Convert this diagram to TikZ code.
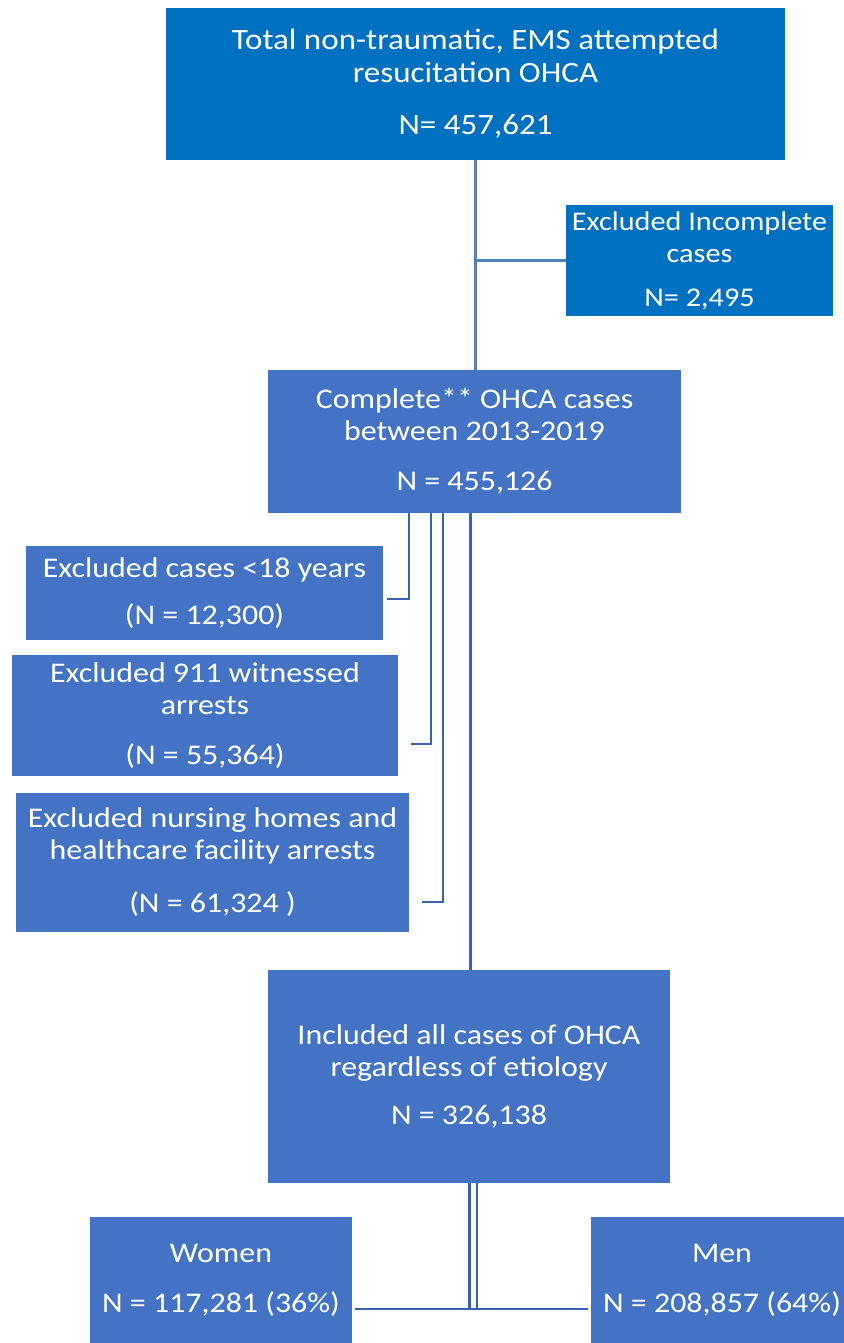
\documentclass[tikz,border=0pt]{standalone}
\usepackage{fontspec}
\setmainfont{Carlito}[FakeStretch=1.12]
\definecolor{bright}{HTML}{0070C0}
\definecolor{mid}{HTML}{4472C4}
\definecolor{lnA}{HTML}{4F81B8}
\definecolor{lnB}{HTML}{3B62AE}
\tikzset{
  box/.style={fill=#1, text=white, inner sep=0pt, align=center,
    font=\fontsize{28.5}{32}\selectfont},
  conn/.style={draw=#1, line width=2.6pt},
}
\begin{document}
\begin{tikzpicture}[x=1pt,y=-1pt]
\useasboundingbox (0,0) rectangle (843,1343);
% boxes
\node[box=bright, minimum width=619pt, minimum height=152pt,
  font=\fontsize{29.5}{33}\selectfont] (top) at (475.5,84)
  {Total non-traumatic, EMS attempted\\resucitation OHCA\\[19pt]N= 457,621};
\node[box=bright, minimum width=267pt, minimum height=111pt,
  font=\fontsize{27}{32}\selectfont] (exinc) at (699.5,260.5)
  {Excluded Incomplete\\cases\\[12pt]N= 2,495};
\node[box=mid, minimum width=413pt, minimum height=143pt] (complete) at (474.5,441.5)
  {Complete** OHCA cases\\between 2013-2019\\[18pt]N = 455,126};
\node[box=mid, minimum width=357pt, minimum height=94pt] (ex1) at (204.5,593)
  {Excluded cases <18 years\\[15pt](N = 12,300)};
\node[box=mid, minimum width=386pt, minimum height=121pt] (ex2) at (205,715.5)
  {Excluded 911 witnessed\\arrests\\[18pt](N = 55,364)};
\node[box=mid, minimum width=393pt, minimum height=139pt] (ex3) at (212.5,862.5)
  {Excluded nursing homes and\\healthcare facility arrests\\[21pt](N = 61,324 )};
\node[box=mid, minimum width=402pt, minimum height=213pt] (incl) at (469,1076.5)
  {Included all cases of OHCA\\regardless of etiology\\[16pt]N = 326,138};
\node[box=mid, minimum width=262pt, minimum height=126pt] (women) at (221,1280)
  {Women\\[18pt]N = 117,281 (36\%)};
\node[box=mid, minimum width=262pt, minimum height=126pt] (men) at (722,1280)
  {Men\\[18pt]N = 208,857 (64\%)};
% connectors
\draw[conn=lnA] (top.south) -- (top.south |- complete.north);
\draw[conn=lnA] (top.south |- exinc.west) -- (exinc.west);
\draw[conn=lnB] ([xshift=-65.5pt]complete.south) |- ([xshift=4pt,yshift=-6pt]ex1.east);
\draw[conn=lnB] ([xshift=-43.5pt]complete.south) |- ([xshift=13pt,yshift=-28.5pt]ex2.east);
\draw[conn=lnB] ([xshift=-31.5pt]complete.south) |- ([xshift=13pt,yshift=-39.5pt]ex3.east);
\draw[conn=lnB] ([xshift=-4pt]complete.south) -- ([xshift=-4pt]complete.south |- incl.north);
\draw[lnB, line width=2.4pt, double=white, double distance=5pt]
  ([xshift=4pt]incl.south) -- ([xshift=4pt,yshift=-27.8pt]incl.south |- women.east);
\draw[conn=lnB] ([xshift=3pt,yshift=-29pt]women.east) -- ([xshift=-3pt,yshift=-29pt]men.west);
\end{tikzpicture}
\end{document}
